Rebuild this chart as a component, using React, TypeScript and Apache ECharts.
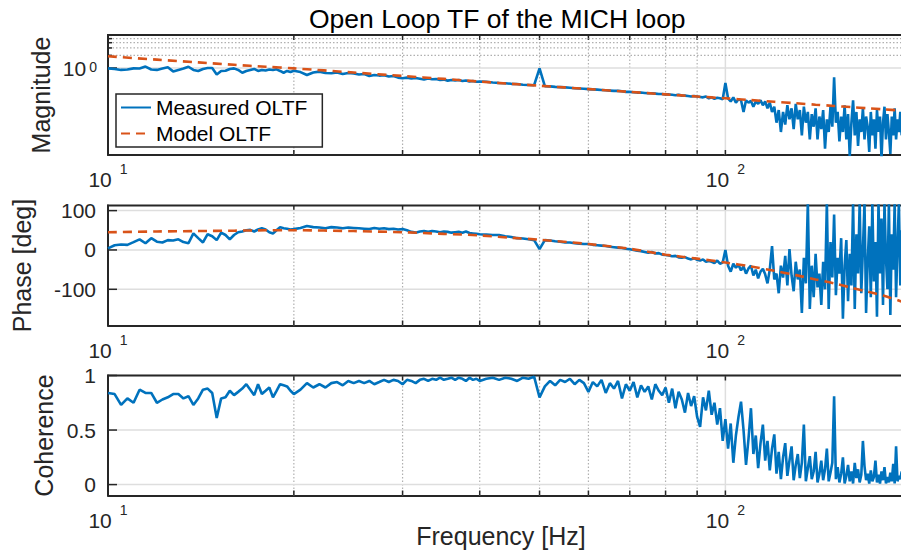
import React, { useEffect, useRef } from 'react';
import * as echarts from 'echarts';

const FONT = '"Liberation Sans", Arial, Helvetica, sans-serif';
const INK = '#262626';
const BLUE = '#0072BD';
const ORANGE = '#D95319';

// ---------- measured data ----------
const FREQ = [
  10, 10.25, 10.5, 10.75, 11, 11.25, 11.5, 11.75, 12, 12.25, 12.5, 12.75, 13, 13.25, 13.5, 13.75, 14, 14.25, 14.5, 14.75,
  15, 15.25, 15.5, 15.75, 16, 16.25, 16.5, 16.75, 17, 17.25, 17.5, 17.75, 18, 18.25, 18.5, 18.75, 19, 19.25, 19.5, 19.75,
  20, 20.5, 21, 21.5, 22, 22.5, 23, 23.5, 24, 24.5, 25, 25.5, 26, 26.5, 27, 27.5, 28, 28.5, 29, 29.5,
  30, 30.5, 31, 31.5, 32, 32.5, 33, 33.5, 34, 34.5, 35, 35.5, 36, 36.5, 37, 37.5, 38, 38.5, 39, 39.5,
  40, 41, 42, 43, 44, 45, 46, 47, 48, 49,
  50, 51, 52, 53, 54, 55, 56, 57, 58, 59,
  60, 61, 62, 63, 64, 65, 66, 67, 68, 69,
  70, 71, 72, 73, 74, 75, 76, 77, 78, 79,
  80, 81, 82, 83, 84, 85, 86, 87, 88, 89,
  90, 91, 92, 93, 94, 95, 96, 97, 98, 99,
  100, 101, 102, 103, 104, 105, 106, 107, 108, 109,
  110, 111, 112, 113, 114, 115, 116, 117, 118, 119,
  120, 121, 122, 123, 124, 125, 126, 127, 128, 129,
  130, 131, 132, 133, 134, 135, 136, 137, 138, 139,
  140, 141, 142, 143, 144, 145, 146, 147, 148, 149,
  150, 151, 152, 153, 154, 155, 156, 157, 158, 159,
  160, 161, 162, 163, 164, 165, 166, 167, 168, 169,
  170, 171, 172, 173, 174, 175, 176, 177, 178, 179,
  180, 181, 182, 183, 184, 185, 186, 187, 188, 189,
  190, 191, 192, 193,
];

const MAGNITUDE = [
  0.98, 0.95, 0.9, 0.92, 0.98, 0.97, 1.08, 0.92, 0.9, 0.97, 1.04, 0.83, 0.9, 0.97, 1.07, 0.9, 0.85, 0.95, 1.0, 1.0,
  0.7, 0.85, 0.86, 0.95, 0.98, 0.9, 0.77, 0.85, 0.9, 0.95, 0.85, 0.9, 0.87, 0.92, 0.9, 0.93, 0.85, 0.77, 0.85, 0.8,
  0.86, 0.8, 0.68, 0.78, 0.82, 0.76, 0.75, 0.78, 0.72, 0.76, 0.74, 0.7, 0.72, 0.645, 0.68, 0.66, 0.67, 0.63, 0.645, 0.59,
  0.57, 0.59, 0.56, 0.58, 0.555, 0.53, 0.56, 0.54, 0.547, 0.52, 0.53, 0.5, 0.52, 0.505, 0.52, 0.49, 0.505, 0.477, 0.49, 0.47,
  0.477, 0.47, 0.45, 0.44, 0.435, 0.42, 0.415, 0.4, 0.395, 0.39,
  0.98, 0.37, 0.365, 0.355, 0.35, 0.345, 0.34, 0.33, 0.325, 0.32,
  0.315, 0.31, 0.305, 0.3, 0.295, 0.29, 0.285, 0.285, 0.28, 0.27,
  0.27, 0.265, 0.26, 0.26, 0.255, 0.25, 0.25, 0.245, 0.24, 0.24,
  0.235, 0.235, 0.23, 0.225, 0.23, 0.22, 0.22, 0.215, 0.21, 0.215,
  0.21, 0.205, 0.2, 0.21, 0.19, 0.2, 0.185, 0.195, 0.19, 0.18,
  0.44, 0.19, 0.16, 0.2, 0.15, 0.18, 0.17, 0.09, 0.17, 0.15,
  0.165, 0.12, 0.16, 0.14, 0.17, 0.13, 0.16, 0.11, 0.15, 0.09,
  0.12, 0.05, 0.1, 0.03, 0.09, 0.045, 0.13, 0.06, 0.11, 0.035,
  0.14, 0.06, 0.1, 0.025, 0.12, 0.05, 0.09, 0.02, 0.08, 0.04,
  0.11, 0.02, 0.07, 0.035, 0.1, 0.012, 0.06, 0.03, 0.12, 0.04,
  0.6, 0.05, 0.09, 0.018, 0.07, 0.03, 0.13, 0.02, 0.08, 0.008,
  0.05, 0.17, 0.025, 0.09, 0.014, 0.06, 0.03, 0.11, 0.02, 0.07,
  0.04, 0.01, 0.09, 0.025, 0.06, 0.012, 0.1, 0.03, 0.07, 0.007,
  0.05, 0.12, 0.02, 0.08, 0.03, 0.009, 0.07, 0.025, 0.11, 0.02,
  0.06, 0.03, 0.09, 0.025,
];

const PHASE = [
  4, 12, 14, 13, 20, 27, 17, 30, 21, 19, 25, 24, 27, 20, 17, 42, 30, 19, 40, 35,
  25, 44, 38, 27, 38, 45, 47, 50, 51, 47, 52, 55, 52, 45, 42, 50, 58, 55, 54, 52,
  53, 56, 61, 58, 57, 55, 58, 57, 55, 57, 56, 55, 54, 53, 56, 54, 55, 53, 54, 52,
  53, 50, 46, 44, 47, 48, 46, 48, 47, 45, 47, 46, 44, 45, 46, 44, 47, 43, 42, 41,
  40, 39, 38, 38, 35, 33, 30, 29, 27, 25,
  2, 25, 24, 22, 21, 19, 19, 17, 16, 15,
  15, 13, 12, 11, 10, 8, 7, 6, 5, 3,
  2, 0, -2, -3, -5, -7, -5, -9, -8, -12,
  -13, -14, -16, -15, -19, -20, -18, -22, -24, -21,
  -25, -27, -24, -30, -28, -30, -33, -27, -35, -32,
  0, -40, -55, -35, -45, -38, -52, -42, -60, -47,
  -40, -65, -50, -72, -55, -48, -62, -85, -50, 10,
  -75, -60, -110, -40, -70, -15, -90, 2, -65, -105,
  -30, -75, -50, -160, -20, -85, 120, -150, -40, -120,
  -10, -95, -60, -140, -30, -100, 120, -150, 20, -70,
  90, -115, -20, -60, 30, -175, -40, 25, -130, -10,
  -90, 120, -150, 40, -60, 120, -110, 0, 120, -160,
  -30, 60, -120, 120, -80, 20, -170, 120, -60, 80,
  -140, 120, -20, -100, 120, -165, 40, -50, 120, -120,
  10, 120, -90, 50,
];

const COHERENCE = [
  0.84, 0.83, 0.73, 0.79, 0.75, 0.87, 0.84, 0.84, 0.75, 0.78, 0.8, 0.83, 0.83, 0.79, 0.81, 0.73, 0.79, 0.87, 0.88, 0.84,
  0.61, 0.79, 0.8, 0.86, 0.82, 0.85, 0.88, 0.92, 0.87, 0.82, 0.92, 0.83, 0.86, 0.89, 0.8, 0.86, 0.92, 0.91, 0.9, 0.86,
  0.83, 0.87, 0.93, 0.89, 0.92, 0.89, 0.93, 0.94, 0.91, 0.95, 0.93, 0.95, 0.93, 0.95, 0.92, 0.94, 0.96, 0.94, 0.96, 0.95,
  0.92, 0.96, 0.95, 0.93, 0.96, 0.97, 0.95, 0.97, 0.96, 0.98, 0.96, 0.97, 0.98, 0.96, 0.98, 0.97, 0.95, 0.98, 0.96, 0.97,
  0.95, 0.97, 0.98, 0.96, 0.98, 0.97, 0.95, 0.98, 0.97, 0.99,
  0.8, 0.9, 0.95, 0.91, 0.96, 0.94, 0.97, 0.92, 0.96, 0.93,
  0.85, 0.94, 0.9, 0.96, 0.84, 0.93, 0.88, 0.95, 0.79, 0.92,
  0.86, 0.94, 0.8, 0.91, 0.85, 0.9, 0.78, 0.92, 0.86, 0.82,
  0.89, 0.75, 0.88, 0.7, 0.85, 0.78, 0.66, 0.84, 0.72, 0.81,
  0.62, 0.53, 0.8, 0.68, 0.86, 0.64, 0.75, 0.55, 0.7, 0.4,
  0.6, 0.33, 0.56, 0.2, 0.45, 0.62, 0.76, 0.5, 0.18, 0.42,
  0.7, 0.28, 0.45, 0.15, 0.38, 0.55, 0.22, 0.4, 0.13, 0.33,
  0.46, 0.1, 0.3, 0.05, 0.25, 0.38, 0.08, 0.22, 0.35, 0.04,
  0.18, 0.28, 0.06, 0.2, 0.55, 0.03, 0.15, 0.26, 0.05, 0.12,
  0.3, 0.02, 0.1, 0.22, 0.04, 0.14, 0.33, 0.03, 0.11, 0.2,
  0.81, 0.05, 0.16, 0.02, 0.1, 0.25, 0.01, 0.08, 0.18, 0.03,
  0.12, 0.01, 0.2, 0.06, 0.14, 0.02, 0.09, 0.4, 0.17, 0.04,
  0.1, 0.01, 0.13, 0.03, 0.07, 0.22, 0.02, 0.09, 0.01, 0.12,
  0.04, 0.16, 0.01, 0.07, 0.02, 0.11, 0.03, 0.19, 0.01, 0.35,
  0.03, 0.08, 0.05, 0.12,
];

// ---------- model data ----------
const MODEL_FREQ = [10, 12, 14, 16, 18, 20, 25, 30, 35, 40, 45, 50, 60, 70, 80, 90, 100, 110, 120, 130, 140, 150, 160, 170, 180, 193];
const MODEL_MAG = [1.9, 1.58, 1.36, 1.19, 1.07, 0.98, 0.78, 0.645, 0.55, 0.475, 0.42, 0.378, 0.315, 0.27, 0.236, 0.21, 0.19, 0.172, 0.157, 0.145, 0.134, 0.125, 0.117, 0.11, 0.104, 0.097];
const MODEL_PHASE = [45, 47, 48, 49, 50, 50, 48, 45, 41, 37, 31, 26, 15, 3, -12, -22, -32, -42, -53, -64, -75, -85, -96, -106, -116, -131];

// ---------- axes / ticks ----------
const X_RANGE = [10, 192.5];
const X_MAJOR = [10, 100];
const X_MINOR = [20, 30, 40, 50, 60, 70, 80, 90];
const MAG_RANGE = [0.0085, 6.1];
const MAG_MAJOR = [1];
const MAG_MINOR = [2, 3, 4, 5, 6];
const PHASE_RANGE = [-192, 113];
const PHASE_TICKS = [-100, 0, 100];
const COH_RANGE = [-0.1, 1];
const COH_TICKS = [0, 0.5, 1];

const TITLE = 'Open Loop TF of the MICH loop';
const LEGEND_NAMES = ['Measured OLTF', 'Model OLTF'];
const Y_NAMES = ['Magnitude', 'Phase [deg]', 'Coherence'];
const X_NAME = 'Frequency [Hz]';

const GRID_TOPS = [35, 205.5, 375.5];
const GRID_H = 120;

function frameData(yRef: number, hMajor: number[], hMinor: number[]) {
  const d: number[][] = [];
  X_MAJOR.forEach((x) => d.push([x, yRef, 0]));
  X_MINOR.forEach((x) => d.push([x, yRef, 1]));
  hMajor.forEach((y) => d.push([X_RANGE[0], y, 2]));
  hMinor.forEach((y) => d.push([X_RANGE[0], y, 3]));
  d.push([X_RANGE[0], yRef, 4]);
  return d;
}

const renderFrame = (params: any, api: any) => {
  const cs = params.coordSys;
  const L = cs.x;
  const T = cs.y;
  const R = cs.x + cs.width;
  const B = cs.y + cs.height;
  const k = api.value(2);
  const p = api.coord([api.value(0), api.value(1)]);
  const tick = { stroke: INK, lineWidth: 1.5 };
  const major = { stroke: '#dedede', lineWidth: 1.5 };
  const minor = { stroke: '#b0b0b0', lineWidth: 1.2, lineDash: [1.5, 2] };
  const children: any[] = [];
  if (k === 0 || k === 1) {
    const x = p[0];
    if (x > L + 1) children.push({ type: 'line', shape: { x1: x, y1: T, x2: x, y2: B }, style: k === 0 ? major : minor });
    children.push({ type: 'line', shape: { x1: x, y1: B, x2: x, y2: B - 5 }, style: tick });
    children.push({ type: 'line', shape: { x1: x, y1: T, x2: x, y2: T + 5 }, style: tick });
  } else if (k === 2 || k === 3) {
    const y = p[1];
    children.push({ type: 'line', shape: { x1: L + 1, y1: y, x2: R, y2: y }, style: k === 2 ? major : minor });
    children.push({ type: 'line', shape: { x1: L, y1: y, x2: L + (k === 2 ? 9 : 4), y2: y }, style: tick });
  } else {
    children.push({ type: 'line', shape: { x1: L - 1, y1: T, x2: R, y2: T }, style: { stroke: INK, lineWidth: 2 } });
  }
  return { type: 'group', children };
};

const zip = (xs: number[], ys: number[]) => xs.map((x, i) => [x, ys[i]]);

const RICH = {
  b: { fontFamily: FONT, fontSize: 21, color: INK, lineHeight: 22, verticalAlign: 'bottom' },
  s: { fontFamily: FONT, fontSize: 14, color: INK, lineHeight: 14, verticalAlign: 'bottom', padding: [0, 0, 14, 8] },
  t: { fontFamily: FONT, fontSize: 14, color: INK, lineHeight: 14, verticalAlign: 'bottom', padding: [0, 0, 5, 3] },
};

const isPow10 = (v: number) => Math.abs(Math.log10(v) - Math.round(Math.log10(v))) < 1e-6;

function makeXAxis(i: number) {
  const ax: any = {
    type: 'log',
    logBase: 10,
    gridIndex: i,
    min: X_RANGE[0],
    max: X_RANGE[1],
    axisLine: { show: true, onZero: false, lineStyle: { color: INK, width: 2 } },
    axisTick: { show: false },
    minorTick: { show: false },
    splitLine: { show: false },
    minorSplitLine: { show: false },
    axisLabel: {
      margin: 13,
      showMaxLabel: false,
      fontFamily: FONT,
      color: INK,
      formatter: (v: number) => (isPow10(v) ? `{b|10}{s|${Math.round(Math.log10(v))}}` : ''),
      rich: RICH,
    },
  };
  if (i === 2) {
    ax.name = X_NAME;
    ax.nameLocation = 'middle';
    ax.nameGap = 28;
    ax.nameMoveOverlap = false;
    ax.nameTextStyle = { fontFamily: FONT, fontSize: 25, lineHeight: 25, color: INK, padding: [0, 7, 0, 0] };
  }
  return ax;
}

function baseY(i: number, gap: number) {
  return {
    gridIndex: i,
    name: Y_NAMES[i],
    nameLocation: 'middle',
    nameGap: gap,
    nameMoveOverlap: false,
    nameTextStyle: { fontFamily: FONT, fontSize: 25, lineHeight: 25, color: INK },
    axisLine: { show: true, onZero: false, lineStyle: { color: INK, width: 2 } },
    axisTick: { show: false },
    minorTick: { show: false },
    splitLine: { show: false },
    minorSplitLine: { show: false },
  };
}

export default function App() {
  const ref = useRef<HTMLDivElement>(null);
  useEffect(() => {
    if (!ref.current) return;
    const chart = echarts.init(ref.current, null, { renderer: 'svg' });
    const option: any = {
      animation: false,
      backgroundColor: '#ffffff',
      textStyle: { fontFamily: FONT },
      title: {
        text: TITLE,
        left: 309,
        top: 6,
        padding: 0,
        textStyle: { fontFamily: FONT, fontSize: 26.5, lineHeight: 26, fontWeight: 'normal', color: '#000' },
      },
      legend: {
        data: LEGEND_NAMES,
        orient: 'vertical',
        left: 116,
        top: 94,
        padding: [3, 15, 3, 4],
        itemWidth: 30,
        itemHeight: 14,
        itemGap: 5,
        backgroundColor: '#ffffff',
        borderColor: INK,
        borderWidth: 1.5,
        borderRadius: 0,
        selectedMode: false,
        z: 10,
        itemStyle: { opacity: 0 },
        textStyle: { fontFamily: FONT, fontSize: 21, lineHeight: 21, color: '#000' },
      },
      grid: GRID_TOPS.map((t) => ({ left: 108, top: t, width: 793, height: GRID_H, containLabel: false, outerBoundsMode: 'none' })),
      xAxis: [0, 1, 2].map(makeXAxis),
      yAxis: [
        {
          ...baseY(0, 55),
          type: 'log',
          logBase: 10,
          min: MAG_RANGE[0],
          max: MAG_RANGE[1],
          axisLabel: {
            margin: 11,
            fontFamily: FONT,
            color: INK,
            formatter: (v: number) => (Math.abs(Math.log10(v)) < 1e-6 ? '{b|10}{t|0}' : ''),
            rich: RICH,
          },
        },
        {
          ...baseY(1, 74),
          type: 'value',
          min: PHASE_RANGE[0],
          max: PHASE_RANGE[1],
          axisLabel: { margin: 12, fontFamily: FONT, fontSize: 21, color: INK, customValues: PHASE_TICKS },
        },
        {
          ...baseY(2, 52),
          type: 'value',
          min: COH_RANGE[0],
          max: COH_RANGE[1],
          axisLabel: { margin: 12, fontFamily: FONT, fontSize: 21, color: INK, customValues: COH_TICKS },
        },
      ],
      series: [
        {
          type: 'custom', name: 'frame-mag', xAxisIndex: 0, yAxisIndex: 0, silent: true, z: 1,
          renderItem: renderFrame, encode: { x: 0, y: 1 }, data: frameData(1, MAG_MAJOR, MAG_MINOR),
        },
        {
          type: 'custom', name: 'frame-phase', xAxisIndex: 1, yAxisIndex: 1, silent: true, z: 1,
          renderItem: renderFrame, encode: { x: 0, y: 1 }, data: frameData(0, PHASE_TICKS, []),
        },
        {
          type: 'custom', name: 'frame-coh', xAxisIndex: 2, yAxisIndex: 2, silent: true, z: 1,
          renderItem: renderFrame, encode: { x: 0, y: 1 }, data: frameData(0, COH_TICKS, []),
        },
        {
          type: 'line', name: 'Measured OLTF', xAxisIndex: 0, yAxisIndex: 0, z: 3,
          symbol: 'none', color: BLUE, lineStyle: { color: BLUE, width: 2.6 },
          data: zip(FREQ, MAGNITUDE),
        },
        {
          type: 'line', name: 'Model OLTF', xAxisIndex: 0, yAxisIndex: 0, z: 4, smooth: 0.3,
          symbol: 'none', color: ORANGE, lineStyle: { color: ORANGE, width: 2.6, type: [9, 6] },
          data: zip(MODEL_FREQ, MODEL_MAG),
        },
        {
          type: 'line', name: 'Measured phase', xAxisIndex: 1, yAxisIndex: 1, z: 3,
          symbol: 'none', color: BLUE, lineStyle: { color: BLUE, width: 2.6 },
          data: zip(FREQ, PHASE),
        },
        {
          type: 'line', name: 'Model phase', xAxisIndex: 1, yAxisIndex: 1, z: 4, smooth: 0.3,
          symbol: 'none', color: ORANGE, lineStyle: { color: ORANGE, width: 2.6, type: [9, 6] },
          data: zip(MODEL_FREQ, MODEL_PHASE),
        },
        {
          type: 'line', name: 'Coherence', xAxisIndex: 2, yAxisIndex: 2, z: 3,
          symbol: 'none', color: BLUE, lineStyle: { color: BLUE, width: 2.6 },
          data: zip(FREQ, COHERENCE),
        },
      ],
    };
    chart.setOption(option);
    return () => chart.dispose();
  }, []);
  return <div ref={ref} style={{ position: 'absolute', left: 0, top: 0, width: 901, height: 554 }} />;
}
